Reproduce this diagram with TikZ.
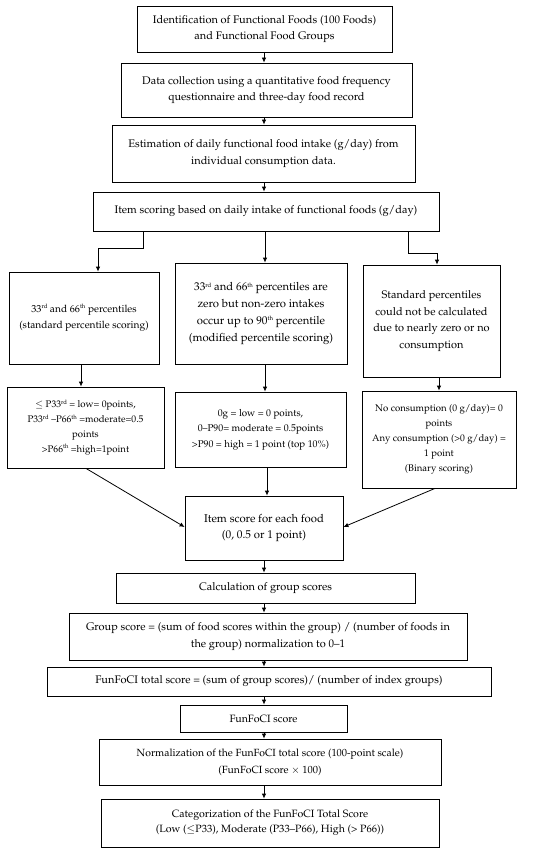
\documentclass[tikz,border=0pt]{standalone}
\usepackage[T1]{fontenc}
\usepackage{mathpazo}
\usetikzlibrary{arrows.meta,calc}
\tikzset{
  box/.style={draw, line width=0.8pt, align=center, inner sep=0pt, font=\fontsize{11}{16.7}\selectfont},
  fs/.style={font=\fontsize{#1}{15}\selectfont},
  arr/.style={line width=0.8pt, -{Latex[length=5pt,width=4.5pt]}},
  ln/.style={line width=0.8pt}
}
\newcommand{\tsup}[1]{\raisebox{0.7ex}{\fontsize{6}{6}\selectfont #1}}
\begin{document}
\begin{tikzpicture}[x=1pt,y=-1pt]
\path[use as bounding box] (0,0) rectangle (550,853);
\coordinate (spine) at (264,0);
\node[box, minimum width=255, minimum height=46] (n1) at (264.5,29) {Identification of Functional Foods (100 Foods)\\and Functional Food Groups};
\node[box, minimum width=291, minimum height=54] (n2) at (266.5,90) {Data collection using a quantitative food frequency\\questionnaire and three-day food record};
\node[box, minimum width=303, minimum height=57] (n3) at (263.5,153.5) {Estimation of daily functional food intake (g/day) from\\individual consumption data.};
\node[box, minimum width=346, minimum height=39] (n4) at (266,211.5) {Item scoring based on daily intake of functional foods (g/day)};
\node[box, font=\fontsize{10.2}{16.5}\selectfont, minimum width=150, minimum height=92] (n5a) at (84,318) {33\tsup{rd} and 66\tsup{th} percentiles\\(standard percentile scoring)};
\node[box, font=\fontsize{11.3}{16.7}\selectfont, minimum width=172, minimum height=101] (n5b) at (261,313.5) {33\tsup{rd} and 66\tsup{th} percentiles are\\zero but non-zero intakes\\occur up to 90\tsup{th} percentile\\(modified percentile scoring)};
\node[box, minimum width=137, minimum height=112] (n5c) at (431.5,321) {Standard percentiles\\could not be calculated\\due to nearly zero or no\\consumption};
\node[box, font=\fontsize{9.6}{14.8}\selectfont, minimum width=157, minimum height=81] (n6a) at (85.5,427.5) {$\leq$ P33\tsup{rd} = low= 0points,\\P33\tsup{rd} --P66\tsup{th} =moderate=0.5\\points\\>P66\tsup{th} =high=1point};
\node[box, font=\fontsize{9.8}{15.5}\selectfont, minimum width=171, minimum height=75] (n6b) at (260.5,429.5) {0g = low = 0 points,\\0--P90= moderate = 0.5points\\>P90 = high = 1 point (top 10\%)};
\node[box, font=\fontsize{9.6}{15}\selectfont, minimum width=154, minimum height=97] (n6c) at (439,439.5) {No consumption (0 g/day)= 0\\points\\Any consumption (>0 g/day) =\\1 point\\(Binary scoring)};
\node[box, font=\fontsize{11.3}{15.5}\selectfont, minimum width=158, minimum height=64] (n7) at (264,528) {Item score for each food\\(0, 0.5 or 1 point)};
\node[box, minimum width=299, minimum height=30] (n8) at (265.5,588) {Calculation of group scores};
\node[box, minimum width=398, minimum height=47] (n9) at (268,636.5) {Group score = (sum of food scores within the group) / (number of foods in\\the group) normalization to 0--1};
\node[box, minimum width=444, minimum height=29] (n10) at (269,681.5) {FunFoCI total score = (sum of group scores)/ (number of index groups)};
\node[box, font=\fontsize{10.6}{16}\selectfont, minimum width=167, minimum height=27] (n11) at (263.5,718.5) {FunFoCI score};
\node[box, font=\fontsize{10.4}{16.7}\selectfont, minimum width=342, minimum height=46] (n12) at (270,762) {Normalization of the FunFoCI total score (100-point scale)\\(FunFoCI score $\times$ 100)};
\node[box, font=\fontsize{10.6}{15}\selectfont, minimum width=338, minimum height=48] (n13) at (270,823) {Categorization of the FunFoCI Total Score\\(Low ($\leq$P33), Moderate (P33--P66), High (> P66))};
% spine arrows
\draw[arr] (n1.south -| spine) -- (n2.north -| spine);
\draw[arr] (n2.south -| spine) -- (n3.north -| spine);
\draw[arr] (n3.south -| spine) -- (n4.north -| spine);
% branches
\coordinate (bl) at (143,0);
\coordinate (br) at (408,0);
\draw[arr] (n4.south -| bl) -- (143,248) -- (98,248) -- (n5a.north -| 98,0);
\draw[arr] (n4.south -| 265,0) -- (n5b.north -| 265,0);
\draw[arr] (n4.south -| br) -- (408,253) -- (437,253) -- (n5c.north -| 437,0);
\draw[arr] (n5a.south -| 81,0) -- (n6a.north -| 81,0);
\draw[arr] (n5b.south -| 265,0) -- (n6b.north -| 265,0);
\draw[arr] (n5c.south -| 439,0) -- (n6c.north -| 439,0);
\draw[arr] (n6a.south -| 86,0) -- (n7.west |- 0,527);
\draw[arr] (n6b.south -| 267,0) -- (n7.north -| 267,0);
\draw[arr] (n6c.south -| 435,0) -- (n7.east |- 0,527);
\draw[arr] (n7.south -| spine) -- (n8.north -| spine);
\draw[arr] (n8.south -| spine) -- (n9.north -| spine);
\draw[arr] (n9.south -| spine) -- (n10.north -| spine);
\draw[arr] (n10.south -| spine) -- (n11.north -| spine);
\draw[arr] (n11.south -| spine) -- (n12.north -| spine);
\draw[arr] (n12.south -| spine) -- (n13.north -| spine);
\end{tikzpicture}
\end{document}
